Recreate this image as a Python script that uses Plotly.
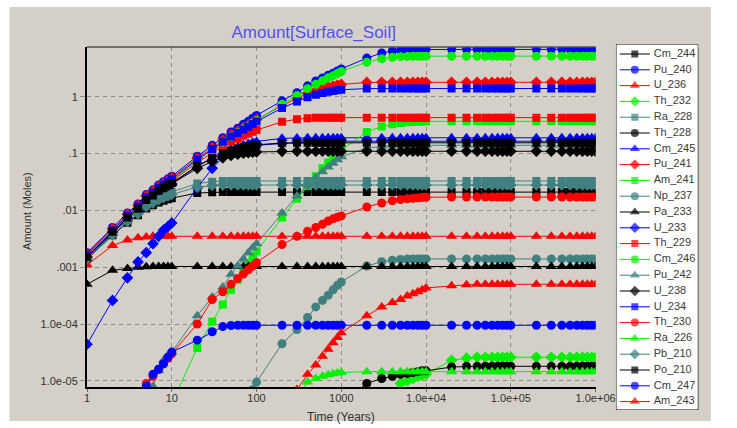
import plotly.graph_objects as go

N = None

# ---------------- data ----------------
TIME_YEARS = [1, 2, 3, 4, 5, 6, 7, 8, 9, 10,
              20, 30, 40, 50, 60, 70, 80, 90, 100,
              200, 300, 400, 500, 600, 700, 800, 900, 1000,
              2000, 3000, 4000, 5000, 6000, 7000, 8000, 9000, 10000,
              20000, 30000, 40000, 50000, 60000, 70000, 80000, 90000, 100000,
              200000, 300000, 400000, 500000, 600000, 700000, 800000, 900000, 1000000]

X_TICK_VALUES = [1, 10, 100, 1000, 1e4, 1e5, 1e6]
X_TICK_LABELS = ["1", "10", "100", "1000", "1.0e+04", "1.0e+05", "1.0e+06"]
Y_TICK_VALUES = [1e-5, 1e-4, 1e-3, 1e-2, 1e-1, 1]
Y_TICK_LABELS = ["1.0e-05", "1.0e-04", ".001", ".01", ".1", "1"]

NUCLIDES = ["Cm_244", "Pu_240", "U_236", "Th_232", "Ra_228", "Th_228", "Cm_245",
            "Pu_241", "Am_241", "Np_237", "Pa_233", "U_233", "Th_229", "Cm_246",
            "Pu_242", "U_238", "U_234", "Th_230", "Ra_226", "Pb_210", "Po_210",
            "Cm_247", "Am_243"]

cm_244 = [0.00139, 0.00364, 0.00609, 0.00819, 0.0108, 0.0123, 0.0138, 0.0148, 0.0157, 0.0164,
          0.0203, 0.0209, 0.021, 0.021, 0.021, 0.021, 0.021, 0.021, 0.021,
          0.021, 0.021, 0.021, 0.021, 0.021, 0.021, 0.021, 0.021, 0.021,
          0.021, 0.021, 0.021, 0.021, 0.021, 0.021, 0.021, 0.021, 0.021,
          0.021, 0.021, 0.021, 0.021, 0.021, 0.021, 0.021, 0.021, 0.021,
          0.021, 0.021, 0.021, 0.021, 0.021, 0.021, 0.021, 0.021, 0.021]
pu_240 = [0.0018, 0.005, 0.009, 0.013, 0.019, 0.023, 0.028, 0.032, 0.036, 0.04,
          0.09, 0.14, 0.19, 0.24, 0.28, 0.33, 0.37, 0.42, 0.47,
          0.85, 1.18, 1.56, 1.9, 2.15, 2.4, 2.6, 2.85, 3.1,
          4.8, 5.9, 6.4, 6.6, 6.7, 6.75, 6.8, 6.8, 6.85,
          6.85, 6.85, 6.85, 6.85, 6.85, 6.85, 6.85, 6.85, 6.85,
          6.85, 6.85, 6.85, 6.85, 6.85, 6.85, 6.85, 6.85, 6.85]
u_236 = [0.0011, 0.0024, 0.003, 0.0033, 0.0034, 0.0035, 0.0035, 0.0035, 0.0035, 0.0035,
         0.0035, 0.0035, 0.0035, 0.0035, 0.0035, 0.0035, 0.0035, 0.0035, 0.0035,
         0.0035, 0.0035, 0.0035, 0.0035, 0.0035, 0.0035, 0.0035, 0.0035, 0.0035,
         0.0035, 0.0035, 0.0035, 0.0035, 0.0035, 0.0035, 0.0035, 0.0035, 0.0035,
         0.0035, 0.0035, 0.0035, 0.0035, 0.0035, 0.0035, 0.0035, 0.0035, 0.0035,
         0.0035, 0.0035, 0.0035, 0.0035, 0.0035, 0.0035, 0.0035, 0.0035, 0.0035]
th_232 = [N, N, N, N, N, N, N, N, N, N,
          N, N, N, N, N, N, N, N, N,
          N, N, N, N, N, N, N, N, N,
          N, N, 6e-6, 9e-6, 1.0e-5, 1.1e-5, 1.2e-5, 1.25e-5, 1.3e-5,
          2.3e-5, 2.5e-5, 2.6e-5, 2.6e-5, 2.6e-5, 2.6e-5, 2.6e-5, 2.6e-5, 2.6e-5,
          2.6e-5, 2.6e-5, 2.6e-5, 2.6e-5, 2.6e-5, 2.6e-5, 2.6e-5, 2.6e-5, 2.6e-5]
ra_228 = [0.0015, 0.004, 0.0068, 0.0094, 0.0128, 0.0148, 0.017, 0.0185, 0.0199, 0.0212,
          0.0298, 0.0321, 0.0328, 0.033, 0.033, 0.033, 0.033, 0.033, 0.033,
          0.033, 0.033, 0.033, 0.033, 0.033, 0.033, 0.033, 0.033, 0.033,
          0.033, 0.033, 0.033, 0.033, 0.033, 0.033, 0.033, 0.033, 0.033,
          0.033, 0.033, 0.033, 0.033, 0.033, 0.033, 0.033, 0.033, 0.033,
          0.033, 0.033, 0.033, 0.033, 0.033, 0.033, 0.033, 0.033, 0.033]
th_228 = [N, N, N, N, N, N, N, N, N, N,
          N, N, N, N, N, N, N, N, N,
          N, N, N, N, N, N, N, N, 4e-6,
          9e-6, 1.1e-5, 1.2e-5, 1.3e-5, 1.35e-5, 1.4e-5, 1.45e-5, 1.5e-5, 1.5e-5,
          1.75e-5, 1.8e-5, 1.8e-5, 1.8e-5, 1.8e-5, 1.8e-5, 1.8e-5, 1.8e-5, 1.8e-5,
          1.8e-5, 1.8e-5, 1.8e-5, 1.8e-5, 1.8e-5, 1.8e-5, 1.8e-5, 1.8e-5, 1.8e-5]
cm_245 = [0.00144, 0.00395, 0.00707, 0.0101, 0.0146, 0.0175, 0.0211, 0.0239, 0.0268, 0.0295,
          0.0599, 0.0846, 0.105, 0.121, 0.132, 0.143, 0.15, 0.158, 0.164,
          0.186, 0.189, 0.19, 0.19, 0.19, 0.19, 0.19, 0.19, 0.19,
          0.19, 0.19, 0.19, 0.19, 0.19, 0.19, 0.19, 0.19, 0.19,
          0.19, 0.19, 0.19, 0.19, 0.19, 0.19, 0.19, 0.19, 0.19,
          0.19, 0.19, 0.19, 0.19, 0.19, 0.19, 0.19, 0.19, 0.19]
pu_241 = [0.00171, 0.00474, 0.00853, 0.0123, 0.018, 0.0217, 0.0264, 0.0302, 0.0339, 0.0376,
          0.0835, 0.128, 0.172, 0.214, 0.247, 0.288, 0.319, 0.358, 0.396,
          0.704, 0.94, 1.14, 1.28, 1.39, 1.49, 1.54, 1.6, 1.65,
          1.79, 1.8, 1.8, 1.8, 1.8, 1.8, 1.8, 1.8, 1.8,
          1.8, 1.8, 1.8, 1.8, 1.8, 1.8, 1.8, 1.8, 1.8,
          1.8, 1.8, 1.8, 1.8, 1.8, 1.8, 1.8, 1.8, 1.8]
am_241 = [N, N, N, N, N, N, N, N, N, 4e-6,
          3.8e-5, 1.1e-4, 2.2e-4, 4e-4, 6e-4, 8.5e-4, 1.15e-3, 1.5e-3, 1.9e-3,
          0.0075, 0.016, 0.027, 0.04, 0.055, 0.07, 0.085, 0.1, 0.115,
          0.24, 0.3, 0.33, 0.345, 0.355, 0.36, 0.365, 0.368, 0.37,
          0.37, 0.37, 0.37, 0.37, 0.37, 0.37, 0.37, 0.37, 0.37,
          0.37, 0.37, 0.37, 0.37, 0.37, 0.37, 0.37, 0.37, 0.37]
np_237 = [N, N, N, N, N, N, N, N, N, N,
          N, N, N, N, N, N, N, 7e-6, 9.5e-6,
          4.5e-5, 8e-5, 1.3e-4, 2e-4, 2.6e-4, 3.2e-4, 4e-4, 4.8e-4, 5.5e-4,
          1.05e-3, 1.25e-3, 1.33e-3, 1.37e-3, 1.39e-3, 1.4e-3, 1.4e-3, 1.4e-3, 1.4e-3,
          1.4e-3, 1.4e-3, 1.4e-3, 1.4e-3, 1.4e-3, 1.4e-3, 1.4e-3, 1.4e-3, 1.4e-3,
          1.4e-3, 1.4e-3, 1.4e-3, 1.4e-3, 1.4e-3, 1.4e-3, 1.4e-3, 1.4e-3, 1.4e-3]
pa_233 = [5e-4, 8.8e-4, 9.5e-4, 1e-3, 1.02e-3, 1.03e-3, 1.03e-3, 1.03e-3, 1.03e-3, 1.03e-3,
          1.03e-3, 1.03e-3, 1.03e-3, 1.03e-3, 1.03e-3, 1.03e-3, 1.03e-3, 1.03e-3, 1.03e-3,
          1.03e-3, 1.03e-3, 1.03e-3, 1.03e-3, 1.03e-3, 1.03e-3, 1.03e-3, 1.03e-3, 1.03e-3,
          1.03e-3, 1.03e-3, 1.03e-3, 1.03e-3, 1.03e-3, 1.03e-3, 1.03e-3, 1.03e-3, 1.03e-3,
          1.03e-3, 1.03e-3, 1.03e-3, 1.03e-3, 1.03e-3, 1.03e-3, 1.03e-3, 1.03e-3, 1.03e-3,
          1.03e-3, 1.03e-3, 1.03e-3, 1.03e-3, 1.03e-3, 1.03e-3, 1.03e-3, 1.03e-3, 1.03e-3]
u_233 = [4.4e-5, 2.6e-4, 6.5e-4, 1.24e-3, 1.8e-3, 2.6e-3, 3.5e-3, 4.5e-3, 5.2e-3, 6e-3,
         0.025, 0.055, 0.085, 0.1, 0.11, 0.12, 0.13, 0.135, 0.14,
         0.152, 0.157, 0.16, 0.162, 0.163, 0.164, 0.165, 0.165, 0.165,
         0.165, 0.165, 0.165, 0.165, 0.165, 0.165, 0.165, 0.165, 0.165,
         0.165, 0.165, 0.165, 0.165, 0.165, 0.165, 0.165, 0.165, 0.165,
         0.165, 0.165, 0.165, 0.165, 0.165, 0.165, 0.165, 0.165, 0.165]
th_229 = [0.00153, 0.00423, 0.00757, 0.0109, 0.0159, 0.0191, 0.0231, 0.0264, 0.0295, 0.0327,
          0.0701, 0.104, 0.135, 0.163, 0.183, 0.206, 0.223, 0.243, 0.26,
          0.363, 0.403, 0.42, 0.426, 0.428, 0.43, 0.43, 0.43, 0.43,
          0.43, 0.43, 0.43, 0.43, 0.43, 0.43, 0.43, 0.43, 0.43,
          0.43, 0.43, 0.43, 0.43, 0.43, 0.43, 0.43, 0.43, 0.43,
          0.43, 0.43, 0.43, 0.43, 0.43, 0.43, 0.43, 0.43, 0.43]
cm_246 = [0.00153, 0.00425, 0.00764, 0.011, 0.0161, 0.0195, 0.0238, 0.0271, 0.0305, 0.0339,
          0.0759, 0.118, 0.159, 0.2, 0.233, 0.273, 0.305, 0.345, 0.384,
          0.741, 1.06, 1.39, 1.66, 1.91, 2.17, 2.36, 2.58, 2.79,
          4.08, 4.68, 4.96, 5.09, 5.15, 5.18, 5.19, 5.2, 5.2,
          5.2, 5.2, 5.2, 5.2, 5.2, 5.2, 5.2, 5.2, 5.2,
          5.2, 5.2, 5.2, 5.2, 5.2, 5.2, 5.2, 5.2, 5.2]
pu_242 = [N, N, N, N, 3e-6, 8e-6, 1.5e-5, 2.3e-5, 2.8e-5, 3.2e-5,
          1.4e-4, 3e-4, 4.5e-4, 7.5e-4, 1.05e-3, 1.4e-3, 1.8e-3, 2.2e-3, 2.6e-3,
          0.009, 0.018, 0.028, 0.038, 0.048, 0.058, 0.068, 0.078, 0.088,
          0.125, 0.135, 0.14, 0.14, 0.14, 0.14, 0.14, 0.14, 0.14,
          0.14, 0.14, 0.14, 0.14, 0.14, 0.14, 0.14, 0.14, 0.14,
          0.14, 0.14, 0.14, 0.14, 0.14, 0.14, 0.14, 0.14, 0.14]
u_238 = [0.00152, 0.00417, 0.00738, 0.0105, 0.0151, 0.0179, 0.0213, 0.0241, 0.0267, 0.0293,
         0.0551, 0.0727, 0.0847, 0.0928, 0.0974, 0.1014, 0.1037, 0.1057, 0.1071,
         0.1099, 0.11, 0.11, 0.11, 0.11, 0.11, 0.11, 0.11, 0.11,
         0.11, 0.11, 0.11, 0.11, 0.11, 0.11, 0.11, 0.11, 0.11,
         0.11, 0.11, 0.11, 0.11, 0.11, 0.11, 0.11, 0.11, 0.11,
         0.11, 0.11, 0.11, 0.11, 0.11, 0.11, 0.11, 0.11, 0.11]
u_234 = [0.00162, 0.00449, 0.00808, 0.0117, 0.017, 0.0205, 0.025, 0.0285, 0.032, 0.0355,
         0.0787, 0.1205, 0.161, 0.2, 0.231, 0.267, 0.297, 0.332, 0.366,
         0.634, 0.83, 0.987, 1.09, 1.17, 1.23, 1.27, 1.31, 1.33,
         1.397, 1.4, 1.4, 1.4, 1.4, 1.4, 1.4, 1.4, 1.4,
         1.4, 1.4, 1.4, 1.4, 1.4, 1.4, 1.4, 1.4, 1.4,
         1.4, 1.4, 1.4, 1.4, 1.4, 1.4, 1.4, 1.4, 1.4]
th_230 = [N, N, N, N, 9e-6, 1.2e-5, 1.6e-5, 2e-5, 2.5e-5, 3e-5,
          1e-4, 2.7e-4, 3.7e-4, 5e-4, 6.3e-4, 7.6e-4, 9e-4, 1.05e-3, 1.2e-3,
          2.5e-3, 3.5e-3, 4.3e-3, 5e-3, 5.7e-3, 6.5e-3, 7.1e-3, 7.6e-3, 8e-3,
          0.0115, 0.0135, 0.0148, 0.0155, 0.016, 0.0163, 0.0166, 0.0168, 0.017,
          0.0172, 0.0172, 0.0172, 0.0172, 0.0172, 0.0172, 0.0172, 0.0172, 0.0172,
          0.0172, 0.0172, 0.0172, 0.0172, 0.0172, 0.0172, 0.0172, 0.0172, 0.0172]
ra_226 = [N, N, N, N, N, N, N, N, N, N,
          N, N, N, N, N, N, N, N, N,
          N, 5e-6, 9.5e-6, 1.1e-5, 1.2e-5, 1.28e-5, 1.33e-5, 1.37e-5, 1.4e-5,
          1.45e-5, 1.45e-5, 1.45e-5, 1.45e-5, 1.45e-5, 1.45e-5, 1.45e-5, 1.45e-5, 1.45e-5,
          1.45e-5, 1.45e-5, 1.45e-5, 1.45e-5, 1.45e-5, 1.45e-5, 1.45e-5, 1.45e-5, 1.45e-5,
          1.45e-5, 1.45e-5, 1.45e-5, 1.45e-5, 1.45e-5, 1.45e-5, 1.45e-5, 1.45e-5, 1.45e-5]
pb_210 = [0.0014, 0.0037, 0.0064, 0.0087, 0.0117, 0.0135, 0.0154, 0.0168, 0.018, 0.0191,
          0.0258, 0.0275, 0.0279, 0.028, 0.028, 0.028, 0.028, 0.028, 0.028,
          0.028, 0.028, 0.028, 0.028, 0.028, 0.028, 0.028, 0.028, 0.028,
          0.028, 0.028, 0.028, 0.028, 0.028, 0.028, 0.028, 0.028, 0.028,
          0.028, 0.028, 0.028, 0.028, 0.028, 0.028, 0.028, 0.028, 0.028,
          0.028, 0.028, 0.028, 0.028, 0.028, 0.028, 0.028, 0.028, 0.028]
po_210 = [0.00152, 0.00419, 0.00747, 0.0107, 0.0153, 0.0183, 0.0221, 0.025, 0.0278, 0.0305,
          0.0605, 0.0831, 0.1, 0.113, 0.122, 0.13, 0.135, 0.1395, 0.143,
          0.154, 0.155, 0.155, 0.155, 0.155, 0.155, 0.155, 0.155, 0.155,
          0.155, 0.155, 0.155, 0.155, 0.155, 0.155, 0.155, 0.155, 0.155,
          0.155, 0.155, 0.155, 0.155, 0.155, 0.155, 0.155, 0.155, 0.155,
          0.155, 0.155, 0.155, 0.155, 0.155, 0.155, 0.155, 0.155, 0.155]
cm_247 = [N, N, N, 4e-6, 8e-6, 1.3e-5, 1.6e-5, 2e-5, 2.6e-5, 3.2e-5,
          5.2e-5, 7.3e-5, 9e-5, 9.4e-5, 9.5e-5, 9.5e-5, 9.5e-5, 9.5e-5, 9.5e-5,
          9.5e-5, 9.5e-5, 9.5e-5, 9.5e-5, 9.5e-5, 9.5e-5, 9.5e-5, 9.5e-5, 9.5e-5,
          9.5e-5, 9.5e-5, 9.5e-5, 9.5e-5, 9.5e-5, 9.5e-5, 9.5e-5, 9.5e-5, 9.5e-5,
          9.5e-5, 9.5e-5, 9.5e-5, 9.5e-5, 9.5e-5, 9.5e-5, 9.5e-5, 9.5e-5, 9.5e-5,
          9.5e-5, 9.5e-5, 9.5e-5, 9.5e-5, 9.5e-5, 9.5e-5, 9.5e-5, 9.5e-5, 9.5e-5]
am_243 = [N, N, N, N, N, N, N, N, N, N,
          N, N, N, N, N, N, N, N, N,
          N, 7e-6, 1.3e-5, 1.9e-5, 2.7e-5, 3.6e-5, 4.7e-5, 5.8e-5, 7e-5,
          1.4e-4, 2e-4, 2.4e-4, 2.7e-4, 3.1e-4, 3.4e-4, 3.7e-4, 4e-4, 4.3e-4,
          4.7e-4, 4.9e-4, 5e-4, 5e-4, 5e-4, 5e-4, 5e-4, 5e-4, 5e-4,
          5e-4, 5e-4, 5e-4, 5e-4, 5e-4, 5e-4, 5e-4, 5e-4, 5e-4]

SERIES = [cm_244, pu_240, u_236, th_232, ra_228, th_228, cm_245, pu_241, am_241,
          np_237, pa_233, u_233, th_229, cm_246, pu_242, u_238, u_234, th_230,
          ra_226, pb_210, po_210, cm_247, am_243]

# ---------------- styles ----------------
COLOR_CYCLE = ["#000000", "#0000ff", "#ff0000", "#00f000", "#408080"]
SYMBOL_CYCLE = ["square", "circle", "triangle-up", "diamond"]
SYMBOL_SIZE = {"square": 8, "circle": 9, "triangle-up": 10, "diamond": 9}
BG = "#d4d0c8"
FONT = "Liberation Sans, Arial, sans-serif"

W, H = 737, 428
ML, MR, MT, MB = 87, 10, 30, 10
PW, PH = W - ML - MR, H - MT - MB


def fx(p):
    return (p - ML) / PW


def fy(p):
    return (H - MB - p) / PH


fig = go.Figure()

for i, (name, vals) in enumerate(zip(NUCLIDES, SERIES)):
    assert len(vals) == len(TIME_YEARS)
    col = COLOR_CYCLE[i % 5]
    sym = SYMBOL_CYCLE[i % 4]
    fig.add_trace(go.Scatter(
        x=TIME_YEARS, y=vals, name=name, mode="lines+markers",
        line=dict(color=col, width=1),
        marker=dict(symbol=sym, size=SYMBOL_SIZE[sym], color=col, line=dict(width=0)),
        showlegend=False, xaxis="x", yaxis="y"))

# ---------------- hand-drawn legend (boxed list on the right) ----------------
LEG_TOP, LEG_STEP = 54, 15.8
for i, name in enumerate(NUCLIDES):
    col = COLOR_CYCLE[i % 5]
    sym = SYMBOL_CYCLE[i % 4]
    yy = LEG_TOP + LEG_STEP * i
    fig.add_trace(go.Scatter(
        x=[4, 19.5, 35], y=[yy, yy, yy], mode="lines+markers",
        line=dict(color=col, width=1),
        marker=dict(symbol=sym, size=[0, SYMBOL_SIZE[sym] - 1, 0], color=col, line=dict(width=0)),
        showlegend=False, hoverinfo="skip", xaxis="x2", yaxis="y2"))
fig.add_trace(go.Scatter(
    x=[39] * len(NUCLIDES), y=[LEG_TOP + LEG_STEP * i for i in range(len(NUCLIDES))],
    text=NUCLIDES, mode="text", textposition="middle right",
    textfont=dict(family=FONT, size=11, color="#3a3a3a"),
    showlegend=False, hoverinfo="skip", xaxis="x2", yaxis="y2"))

axis_font = dict(family=FONT, size=11, color="#303030")
fig.update_layout(
    width=W, height=H,
    margin=dict(l=ML, r=MR, t=MT, b=MB, pad=0),
    paper_bgcolor="white", plot_bgcolor="rgba(0,0,0,0)",
    font=dict(family=FONT, size=11, color="#303030"),
    showlegend=False,
    title=dict(text="Amount[Surface_Soil]", x=fx(321), xref="paper", xanchor="center",
               y=1 - 32 / H, yref="container", yanchor="middle",
               font=dict(family=FONT, size=17, color="#5050f0")),
    xaxis=dict(type="log", range=[0, 6], domain=[0, fx(612)],
               tickvals=X_TICK_VALUES, ticktext=X_TICK_LABELS, tickfont=axis_font,
               showgrid=True, gridcolor="#8c8c8c", griddash="4px,4px", gridwidth=1,
               showline=True, linecolor="black", linewidth=2, mirror=False,
               ticks="outside", ticklen=3, tickcolor="#707070", zeroline=False,
               ticklabelstandoff=-3, anchor="y"),
    yaxis=dict(type="log", range=[-5.109, 0.877], domain=[fy(387), fy(47)],
               tickvals=Y_TICK_VALUES, ticktext=Y_TICK_LABELS, tickfont=axis_font,
               showgrid=True, gridcolor="#8c8c8c", griddash="4px,4px", gridwidth=1,
               showline=True, linecolor="black", linewidth=2, mirror=False,
               ticks="outside", ticklen=5, tickcolor="#8c8c8c", zeroline=False,
               anchor="x"),
    xaxis2=dict(domain=[fx(633), fx(718)], range=[0, 85], visible=False,
                fixedrange=True, anchor="y2"),
    yaxis2=dict(domain=[fy(410), fy(44)], range=[410, 44], visible=False,
                fixedrange=True, anchor="x2"),
    shapes=[
        dict(type="rect", xref="paper", yref="paper", layer="below",
             x0=fx(7), x1=fx(731), y0=fy(421), y1=fy(7),
             fillcolor=BG, line=dict(width=0)),
        dict(type="line", xref="x domain", yref="y domain", x0=0, x1=1, y0=1, y1=1,
             line=dict(color="#505050", width=1.5)),
        dict(type="rect", xref="x2", yref="y2", layer="below",
             x0=4, x1=89, y0=48, y1=414, fillcolor="#303030", line=dict(width=0)),
        dict(type="rect", xref="x2", yref="y2", layer="below",
             x0=0, x1=85, y0=44, y1=410, fillcolor="white",
             line=dict(color="black", width=1)),
    ],
    annotations=[
        dict(text="Time (Years)", xref="paper", yref="paper", x=fx(349.5), y=fy(417),
             xanchor="center", yanchor="middle", showarrow=False,
             font=dict(family=FONT, size=12, color="#303030")),
        dict(text="Amount (Moles)", xref="paper", yref="paper", x=fx(25), y=fy(211),
             xanchor="center", yanchor="middle", showarrow=False, textangle=-90,
             font=dict(family=FONT, size=11, color="#303030")),
    ],
)

fig.write_html("out.html",
               config={"displayModeBar": False, "staticPlot": True},
               post_script="document.body.style.margin='0px';document.body.style.overflow='hidden';")
